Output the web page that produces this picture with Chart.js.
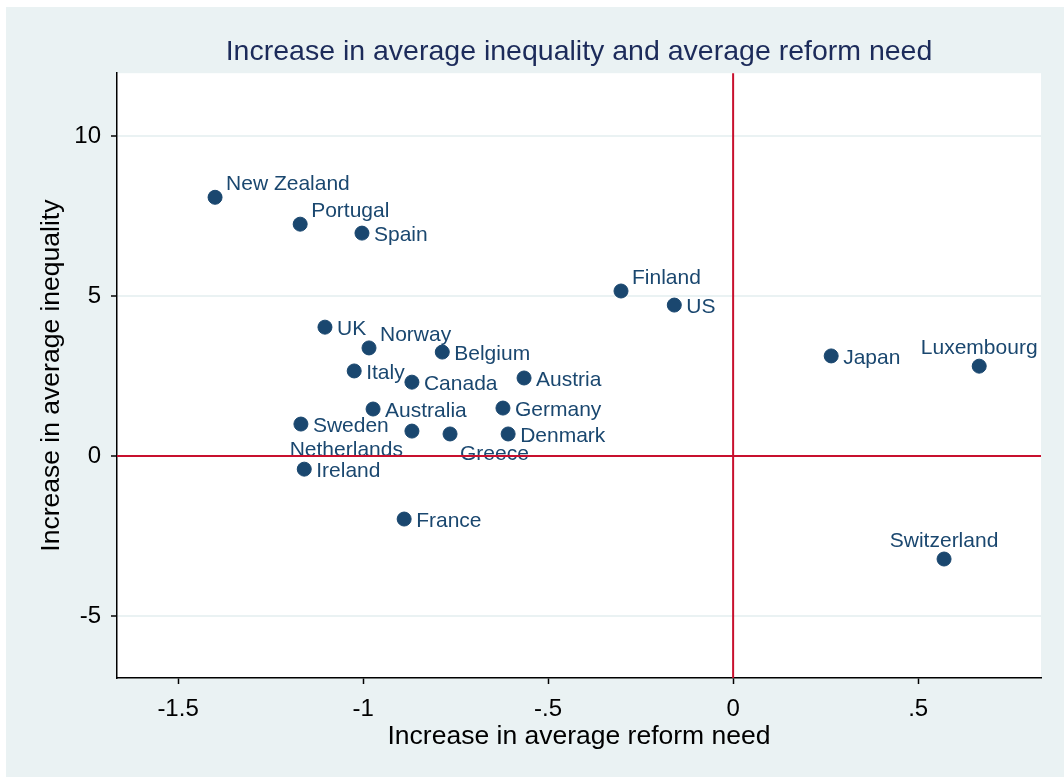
<!DOCTYPE html>
<html>
<head>
<meta charset="utf-8">
<script src="https://cdn.jsdelivr.net/npm/chart.js@4/dist/chart.umd.min.js"></script>
<style>
  html, body { margin: 0; padding: 0; background: #fff; }
  #wrap { width: 1064px; height: 778px; }
</style>
</head>
<body>
<div id="wrap"><canvas id="scatterChart" width="1064" height="778"></canvas></div>
<script>
const countries = ['New Zealand', 'Portugal', 'Spain', 'Finland', 'US', 'UK', 'Norway', 'Belgium',
    'Italy', 'Canada', 'Austria', 'Japan', 'Luxembourg', 'Australia', 'Germany', 'Sweden',
    'Netherlands', 'Greece', 'Denmark', 'Ireland', 'France', 'Switzerland'];
const reformNeed = [-1.400, -1.170, -1.003, -0.303, -0.159, -1.103, -0.984, -0.786,
    -1.024, -0.868, -0.565, 0.265, 0.665, -0.973, -0.622, -1.168,
    -0.868, -0.765, -0.608, -1.159, -0.889, 0.570];
const inequality = [8.09, 7.25, 6.97, 5.16, 4.72, 4.03, 3.38, 3.25,
    2.66, 2.31, 2.44, 3.13, 2.81, 1.47, 1.50, 1.00,
    0.78, 0.69, 0.69, -0.41, -1.97, -3.22];

const xTickValues = [-1.5, -1, -0.5, 0, 0.5];
const xTickLabels = ['-1.5', '-1', '-.5', '0', '.5'];
const yTickValues = [-5, 0, 5, 10];
const yTickLabels = ['-5', '0', '5', '10'];

const navy = '#1a476f';
const fontFamily = '"Liberation Sans", Arial, sans-serif';

// clock position of each marker label (stata style), 3 = right
const labelClock = {
    'New Zealand': 2, 'Portugal': 2, 'Finland': 2, 'Norway': 2,
    'Luxembourg': 12, 'Switzerland': 12, 'Netherlands': 7, 'Greece': 5
};
const clockOffsets = {
    3: { dx: 12, dy: 2, align: 'left' },
    2: { dx: 11, dy: -13, align: 'left' },
    12: { dx: 0, dy: -18, align: 'center' },
    7: { dx: -9, dy: 19, align: 'right' },
    5: { dx: 10, dy: 20, align: 'left' }
};

const backdrop = {
    id: 'backdrop',
    beforeDraw(chart) {
        const { ctx, chartArea } = chart;
        ctx.save();
        ctx.fillStyle = '#ffffff';
        ctx.fillRect(0, 0, chart.width, chart.height);
        ctx.fillStyle = '#eaf2f3';
        ctx.fillRect(6, 7, chart.width - 6, chart.height - 8);
        ctx.fillStyle = '#ffffff';
        ctx.fillRect(chartArea.left, chartArea.top, chartArea.right - chartArea.left, chartArea.bottom - chartArea.top);
        ctx.restore();
    }
};

const markerLabels = {
    id: 'markerLabels',
    afterDatasetsDraw(chart) {
        const { ctx, chartArea, scales } = chart;
        const meta = chart.getDatasetMeta(0);
        ctx.save();
        ctx.font = '21px ' + fontFamily;
        ctx.fillStyle = navy;
        ctx.textBaseline = 'middle';
        meta.data.forEach((pt, i) => {
            const name = countries[i];
            const off = clockOffsets[labelClock[name] || 3];
            ctx.textAlign = off.align;
            ctx.fillText(name, pt.x + off.dx, pt.y + off.dy);
        });

        // reference lines at zero
        const x0 = scales.x.getPixelForValue(0);
        const y0 = scales.y.getPixelForValue(0);
        ctx.strokeStyle = '#c8102e';
        ctx.lineWidth = 2;
        ctx.beginPath();
        ctx.moveTo(chartArea.left, y0);
        ctx.lineTo(chartArea.right, y0);
        ctx.moveTo(x0, chartArea.top);
        ctx.lineTo(x0, chartArea.bottom);
        ctx.stroke();
        ctx.restore();
    }
};

const ctx = document.getElementById('scatterChart').getContext('2d');

const scatterChart = new Chart(ctx, {
    type: 'scatter',
    data: {
        datasets: [{
            label: 'Countries',
            data: countries.map((c, i) => ({ x: reformNeed[i], y: inequality[i] })),
            backgroundColor: navy,
            borderColor: navy,
            pointRadius: 7,
            pointHoverRadius: 7
        }]
    },
    options: {
        responsive: false,
        animation: false,
        layout: {
            padding: { left: 6, right: 23, top: 0, bottom: 0 }
        },
        plugins: {
            legend: { display: false },
            tooltip: { enabled: false },
            title: {
                display: true,
                fullSize: false,
                text: 'Increase in average inequality and average reform need',
                color: '#1c2b5a',
                font: { family: fontFamily, size: 28.5, weight: 'normal' },
                padding: { top: 35, bottom: 4 }
            }
        },
        scales: {
            x: {
                type: 'linear',
                min: -1.665,
                max: 0.832,
                afterFit(scale) { scale.height = 100; },
                afterBuildTicks(scale) { scale.ticks = xTickValues.map(v => ({ value: v })); },
                ticks: {
                    color: '#000',
                    font: { family: fontFamily, size: 24 },
                    padding: 11,
                    maxRotation: 0,
                    autoSkip: false,
                    callback: (v) => xTickLabels[xTickValues.indexOf(v)]
                },
                grid: {
                    drawOnChartArea: false,
                    tickLength: 6,
                    tickColor: '#000',
                    tickWidth: 1.5
                },
                border: { color: '#000', width: 1.5 },
                title: {
                    display: true,
                    text: 'Increase in average reform need',
                    color: '#000',
                    font: { family: fontFamily, size: 26.5 },
                    padding: { top: 0, bottom: 25 }
                }
            },
            y: {
                type: 'linear',
                min: -6.94,
                max: 11.97,
                afterFit(scale) { scale.width = 111; },
                afterBuildTicks(scale) { scale.ticks = yTickValues.map(v => ({ value: v })); },
                ticks: {
                    color: '#000',
                    font: { family: fontFamily, size: 24 },
                    padding: 10,
                    autoSkip: false,
                    callback: (v) => yTickLabels[yTickValues.indexOf(v)]
                },
                grid: {
                    color: '#eaf2f3',
                    lineWidth: 2,
                    tickLength: 6,
                    tickColor: '#000',
                    tickWidth: 1.5
                },
                border: { color: '#000', width: 1.5 },
                title: {
                    display: true,
                    text: 'Increase in average inequality',
                    color: '#000',
                    font: { family: fontFamily, size: 26.5 },
                    padding: { top: 30, bottom: 0 }
                }
            }
        }
    },
    plugins: [backdrop, markerLabels]
});
</script>
</body>
</html>
